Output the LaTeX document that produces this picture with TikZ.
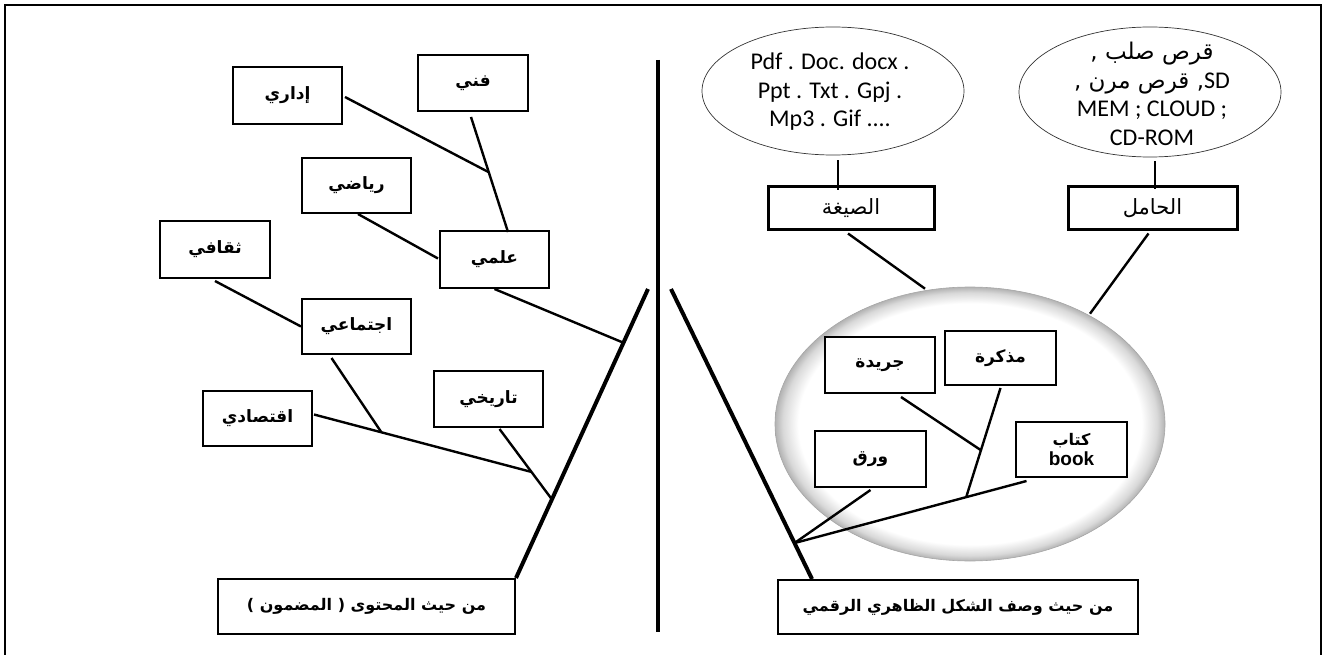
\documentclass[tikz,border=0pt]{standalone}
\usepackage{fontspec}
\usetikzlibrary{shapes.geometric,calc}
\TeXXeTstate=1
\newfontfamily\arb[Script=Arabic]{DejaVu Sans}
\newfontfamily\calfnt{Carlito}
\newfontfamily\lsans{Liberation Sans}
\newcommand\AR[1]{\beginR#1\endR}
\pgfdeclareradialshading{rimshade}{\pgfpoint{0bp}{0bp}}{color(0bp)=(white);color(22bp)=(white);color(24bp)=(gray!30);color(25bp)=(gray!60);color(50bp)=(gray!60)}
\begin{document}
\begin{tikzpicture}[x=1pt,y=-1pt,
  box/.style={draw, line width=2pt, fill=white, inner sep=0pt, font=\arb\bfseries\fontsize{17}{20}\selectfont},
  widebox/.style={box, font=\arb\bfseries\fontsize{16}{19}\selectfont},
  tbox/.style={draw, line width=3pt, fill=white, inner sep=0pt, font=\arb\fontsize{21}{24}\selectfont},
  conn/.style={line width=2.4pt},
  thinconn/.style={line width=1.6pt},
  spine/.style={line width=4pt},
  oval/.style={draw=black!80, ellipse, line width=0.7pt, inner sep=0pt},
  ovaltext/.style={font=\calfnt\fontsize{24}{28.5}\selectfont, align=center, inner sep=0pt},
  bigell/.style={ellipse, draw=gray!70, line width=0.6pt, shading=rimshade, inner sep=0pt}
  ]
\useasboundingbox (0,0) rectangle (1323,655);
\clip (0,0) rectangle (1323,655);
\draw[line width=2pt] (5,5) rectangle (1320.5,675);

% ---------- centre divider ----------
\coordinate (ct) at (658,60);
\coordinate (cb) at (658,632);
\draw[spine] (ct) -- (cb);

% ---------- left side ----------
\node[box, minimum width=110pt, minimum height=56pt] (fanni)    at (473,83)      {\AR{فني}};
\node[box, minimum width=109pt, minimum height=57pt] (idari)    at (287.5,95.5)  {\AR{إداري}};
\node[box, minimum width=109pt, minimum height=55pt] (riyadi)   at (356.5,185.5) {\AR{رياضي}};
\node[box, minimum width=110pt, minimum height=57pt] (thaqafi)  at (215,249.5)   {\AR{ثقافي}};
\node[box, minimum width=109pt, minimum height=57pt] (ilmi)     at (494.5,259.5) {\AR{علمي}};
\node[box, minimum width=109pt, minimum height=55pt] (ijtimai)  at (356.5,326.5) {\AR{اجتماعي}};
\node[box, minimum width=109pt, minimum height=56pt] (tarikhi)  at (488.5,399)   {\AR{تاريخي}};
\node[box, minimum width=109pt, minimum height=55pt] (iqtisadi) at (257.5,418.5) {\AR{اقتصادي}};
\node[widebox, minimum width=297pt, minimum height=55pt] (bl)   at (366.5,606.5) {) \AR{المضمون} ( \AR{من حيث المحتوى}};

\coordinate (Lt) at (648,289);
\draw[spine] (bl.north east) -- (Lt) coordinate[pos=0.814] (jIlmi) coordinate[pos=0.272] (jTar);
\draw[conn] (ilmi.south) -- (jIlmi);
\draw[conn] ([shift={(11,1)}]tarikhi.south) -- (jTar) coordinate[pos=0.61] (jIq);
\draw[conn] ([shift={(1,-4)}]iqtisadi.east) -- (jIq) coordinate[pos=0.31] (jIj);
\draw[conn] ([shift={(-25,3)}]ijtimai.south) -- (jIj);
\draw[conn] ([shift={(0,2)}]thaqafi.south) -- (ijtimai.west);
\draw[conn] ([shift={(1.5,0)}]riyadi.south) -- ([shift={(-1,-1)}]ilmi.west);
\draw[conn] ([shift={(-2,5)}]fanni.south) -- ([shift={(13.5,2)}]ilmi.north) coordinate[pos=0.48] (jF);
\draw[conn] ([shift={(2,1.5)}]idari.east) -- (jF);

% ---------- right side ----------
\node[bigell, minimum width=390pt, minimum height=274pt] (big) at (970,424) {};
\node[box, minimum width=110pt, minimum height=56pt] (jarida) at (880,365)     {\AR{جريدة}};
\node[box, minimum width=111pt, minimum height=54pt] (mudh)   at (1000.5,358)  {\AR{مذكرة}};
\node[box, minimum width=111pt, minimum height=55pt, align=center, font=\arb\bfseries\fontsize{16}{19}\selectfont] (kitab) at (1071.5,449.5) {\AR{كتاب}\\[1pt]{\lsans\bfseries\fontsize{19}{21}\selectfont book}};
\node[box, minimum width=111pt, minimum height=56pt] (waraq)  at (870.5,459)   {\AR{ورق}};
\node[widebox, minimum width=360pt, minimum height=54pt] (br)   at (958,607)     {\AR{من حيث وصف الشكل الظاهري الرقمي}};

\coordinate (Rt) at (671,289);
\draw[spine] ([shift={(35,0)}]br.north west) -- (Rt) coordinate[pos=0.124] (jR);
\draw[conn] ([shift={(-45,3)}]kitab.south) -- (jR) coordinate[pos=0.26] (jK);
\draw[conn] ([shift={(0,2)}]mudh.south) -- (jK) coordinate[pos=0.57] (jM);
\draw[conn] ([shift={(21,3)}]jarida.south) -- (jM);
\draw[conn] ([shift={(0,2)}]waraq.south) -- (jR);

% ---------- top right ----------
\node[oval, minimum width=262pt, minimum height=128pt] (e1) at (833,91) {};
\node[ovaltext] (e1t) at (830,92) {Pdf . Doc. docx .\\ Ppt . Txt . Gpj .\\ Mp3 . Gif ....};
\node[oval, minimum width=262pt, minimum height=130pt] (e2) at (1150,92) {};
\node[ovaltext] (e2t) at (1152,94) {{\arb\fontsize{23}{28.5}\selectfont\AR{قرص صلب ,}}\\
  {\arb\fontsize{23}{28.5}\selectfont\beginR{\calfnt\fontsize{24}{28.5}\selectfont\beginL SD\endL}, قرص مرن ,\endR}\\
  MEM ; CLOUD ;\\ CD-ROM};

\node[tbox, minimum width=166pt, minimum height=43pt] (sigha) at (851,208.5)  {\AR{الصيغة}};
\node[tbox, minimum width=169pt, minimum height=43pt] (hamil) at (1152.5,208.5) {\AR{الحامل}};

\draw[thinconn] ([shift={(5,5)}]e1.south) -- ([shift={(5,5)}]e1.south |- sigha.north);
\draw[thinconn] ([shift={(5,4)}]e2.south) -- ([shift={(5,4)}]e2.south |- hamil.north);
\draw[conn] ([shift={(-3,2)}]sigha.south) -- ([shift={(-45,2)}]big.north);
\draw[conn] ([shift={(-4,2)}]hamil.south) -- ([shift={(120,27)}]big.north);
\end{tikzpicture}
\end{document}
